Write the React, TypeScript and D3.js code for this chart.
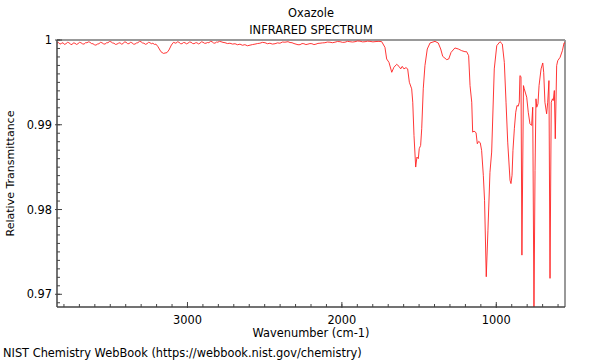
import React from "react";
import * as d3 from "d3";

const title = "Oxazole";
const subtitle = "INFRARED SPECTRUM";
const xLabel = "Wavenumber (cm-1)";
const yLabel = "Relative Transmittance";
const footer = "NIST Chemistry WebBook (https://webbook.nist.gov/chemistry)";

const xDomain = [3845, 555];
const yDomain = [0.9685, 1.0];
const xMajorTicks = [3000, 2000, 1000];
const yMajorTicks = [0.97, 0.98, 0.99, 1.0];
const yTickLabels = ["0.97", "0.98", "0.99", "1"];

const wavenumbers = [
  3845, 3836, 3826, 3816, 3806, 3797, 3787, 3777, 3768, 3758, 3748, 3739, 3729, 3719, 3709, 3700,
  3690, 3680, 3670, 3660, 3651, 3641, 3632, 3622, 3612, 3603, 3593, 3583, 3573, 3564, 3554, 3544,
  3534, 3525, 3515, 3505, 3496, 3486, 3476, 3466, 3457, 3447, 3437, 3428, 3418, 3408, 3398, 3389,
  3379, 3370, 3360, 3350, 3340, 3331, 3321, 3311, 3301, 3292, 3282, 3272, 3262, 3253, 3243, 3234,
  3224, 3214, 3204, 3191, 3172, 3156, 3133, 3120, 3104, 3091, 3075, 3065, 3055, 3046, 3036, 3026,
  3016, 3007, 2997, 2987, 2977, 2968, 2958, 2949, 2939, 2929, 2919, 2910, 2900, 2890, 2880, 2871,
  2861, 2851, 2841, 2832, 2822, 2812, 2803, 2793, 2783, 2770, 2757, 2741, 2725, 2708, 2692, 2676,
  2660, 2644, 2628, 2612, 2595, 2579, 2563, 2547, 2531, 2515, 2498, 2482, 2466, 2450, 2433, 2417,
  2401, 2385, 2369, 2349, 2336, 2323, 2310, 2297, 2284, 2271, 2258, 2246, 2233, 2220, 2207, 2194,
  2181, 2168, 2155, 2142, 2126, 2110, 2094, 2077, 2061, 2045, 2029, 2012, 1996, 1980, 1964, 1948,
  1931, 1915, 1899, 1883, 1866, 1850, 1834, 1818, 1799, 1779, 1760, 1742, 1721, 1710, 1695, 1677,
  1663, 1645, 1630, 1619, 1609, 1598, 1585, 1574, 1563, 1548, 1541, 1533, 1522, 1514, 1505, 1499,
  1490, 1483, 1473, 1462, 1447, 1429, 1397, 1376, 1360, 1347, 1321, 1308, 1293, 1268, 1246, 1224,
  1203, 1192, 1179, 1170, 1159, 1153, 1144, 1131, 1123, 1114, 1104, 1095, 1084, 1076, 1065, 1054,
  1041, 1030, 1013, 997, 976, 961, 948, 937, 926, 911, 905, 898, 892, 883, 874, 866,
  858, 851, 847, 840, 834, 824, 819, 803, 793, 782, 771, 764, 756, 749, 743, 738,
  730, 723, 710, 699, 693, 685, 674, 667, 659, 652, 644, 636, 631, 624, 618, 609,
  602, 587, 572, 561, 555,
];

const transmittance = [
  0.99962, 0.99972, 0.99951, 0.9996, 0.99968, 0.99948, 0.99956, 0.99972, 0.99968, 0.99952, 0.99945, 0.99966, 0.99962, 0.99948, 0.99956, 0.99972,
  0.99968, 0.99955, 0.99951, 0.99968, 0.99968, 0.99978, 0.99974, 0.99958, 0.99956, 0.99944, 0.99939, 0.99952, 0.99956, 0.99972, 0.99968, 0.99955,
  0.99951, 0.99966, 0.99968, 0.99982, 0.9998, 0.99966, 0.99962, 0.99948, 0.99951, 0.99962, 0.99968, 0.99952, 0.99956, 0.99978, 0.99974, 0.99958,
  0.99956, 0.99972, 0.99968, 0.99952, 0.99951, 0.99964, 0.99968, 0.99984, 0.9998, 0.99966, 0.99962, 0.99949, 0.99956, 0.99972, 0.99968, 0.99956,
  0.99962, 0.99948, 0.99951, 0.99921, 0.99862, 0.99842, 0.99851, 0.99882, 0.99941, 0.99972, 0.99962, 0.99978, 0.99974, 0.99958, 0.99956, 0.9997,
  0.99968, 0.99955, 0.99962, 0.99976, 0.99974, 0.9996, 0.99956, 0.99966, 0.99968, 0.99954, 0.99962, 0.99978, 0.99974, 0.99962, 0.99962, 0.9997,
  0.99968, 0.99984, 0.9998, 0.99966, 0.99962, 0.99976, 0.99974, 0.99984, 0.9998, 0.99972, 0.99968, 0.99958, 0.99962, 0.99952, 0.99956, 0.99944,
  0.99951, 0.99938, 0.99945, 0.99932, 0.99939, 0.99946, 0.99951, 0.99958, 0.99962, 0.99972, 0.99968, 0.99956, 0.99962, 0.99952, 0.99956, 0.99966,
  0.99962, 0.99976, 0.99974, 0.9998, 0.9997, 0.99968, 0.99958, 0.99951, 0.99944, 0.99945, 0.99958, 0.99956, 0.99946, 0.99951, 0.99958, 0.99956,
  0.99946, 0.99951, 0.9996, 0.99962, 0.99966, 0.99968, 0.99976, 0.99974, 0.99968, 0.99974, 0.99982, 0.9998, 0.99972, 0.99974, 0.99984, 0.9998,
  0.99976, 0.9998, 0.99988, 0.99986, 0.99978, 0.9998, 0.99986, 0.99984, 0.99978, 0.99982, 0.99984, 0.9998, 0.99913, 0.99776, 0.99736, 0.99619,
  0.99678, 0.99713, 0.99689, 0.99659, 0.99689, 0.99659, 0.99674, 0.99659, 0.99501, 0.99424, 0.99266, 0.98874, 0.98501, 0.98619, 0.986, 0.98718,
  0.98756, 0.98953, 0.99424, 0.99698, 0.99894, 0.99965, 0.99984, 0.99965, 0.99894, 0.99807, 0.99768, 0.99776, 0.99854, 0.99906, 0.99894, 0.99874,
  0.99862, 0.99862, 0.99815, 0.99462, 0.99266, 0.98913, 0.98925, 0.98906, 0.98776, 0.98804, 0.98788, 0.98698, 0.98404, 0.98109, 0.97207, 0.97756,
  0.98439, 0.98678, 0.99659, 0.99933, 0.9998, 0.99953, 0.99736, 0.99266, 0.98795, 0.98345, 0.98306, 0.98404, 0.98698, 0.98953, 0.99148, 0.99227,
  0.99219, 0.99266, 0.9958, 0.99568, 0.97462, 0.99462, 0.99424, 0.99325, 0.99148, 0.99012, 0.98992, 0.99207, 0.968, 0.98462, 0.99306, 0.99207,
  0.99247, 0.99462, 0.99659, 0.99729, 0.99619, 0.99266, 0.99129, 0.99266, 0.99521, 0.97188, 0.99266, 0.99306, 0.99286, 0.99404, 0.98835, 0.99698,
  0.99756, 0.99795, 0.99874, 0.99965, 0.99965,
];

const W = 600;
const H = 360;
const M = { left: 57, right: 565, top: 40, bottom: 307 };

export default function App() {
  const x = d3.scaleLinear().domain(xDomain).range([M.left, M.right]);
  const y = d3.scaleLinear().domain(yDomain).range([M.bottom, M.top]);
  const pts: [number, number][] = wavenumbers.map((w, i) => [w, transmittance[i]]);
  const line = d3
    .line<[number, number]>()
    .x((d) => x(d[0]))
    .y((d) => y(d[1]));

  const xMinor = d3.range(600, 3900, 100).filter((v) => v <= xDomain[0] && v >= xDomain[1]);
  const yMinor = d3.range(969, 1001, 1).map((v) => v / 1000);

  const font = "DejaVu Sans, sans-serif";
  const fs = 11.4;
  const axisColor = "#444";
  const frameColor = "#999";

  return (
    <svg width={W} height={H} style={{ position: "absolute", left: 0, top: 0, background: "#fff" }}>
      <defs>
        <clipPath id="plotclip">
          <rect x={M.left} y={M.top} width={M.right - M.left} height={M.bottom - M.top} />
        </clipPath>
      </defs>
      <text x={311} y={17} textAnchor="middle" fontFamily={font} fontSize={fs} fill="#000">
        {title}
      </text>
      <text x={311} y={34} textAnchor="middle" fontFamily={font} fontSize={fs} fill="#000">
        {subtitle}
      </text>

      {/* frame */}
      <line x1={M.left} x2={M.right} y1={M.top} y2={M.top} stroke={frameColor} strokeWidth={2} />
      <line x1={M.right} x2={M.right} y1={M.top} y2={M.bottom} stroke={frameColor} strokeWidth={2} />

      {/* spectrum */}
      <path d={line(pts) || ""} fill="none" stroke="#ff2020" strokeWidth={0.9} clipPath="url(#plotclip)" />

      <line x1={M.left} x2={M.left} y1={M.top} y2={M.bottom} stroke={axisColor} strokeWidth={1.5} />
      <line x1={M.left} x2={M.right} y1={M.bottom} y2={M.bottom} stroke={axisColor} strokeWidth={1.5} />

      {/* y ticks */}
      {yMinor.map((v) => (
        <line key={"ym" + v} x1={M.left} x2={M.left + 3} y1={y(v)} y2={y(v)} stroke={axisColor} strokeWidth={1} />
      ))}
      {yMajorTicks.map((v, i) => (
        <g key={"yM" + v}>
          <line x1={M.left - 2} x2={M.left + 5} y1={y(v)} y2={y(v)} stroke={axisColor} strokeWidth={1} />
          <text x={M.left - 5} y={y(v)} dy="0.35em" textAnchor="end" fontFamily={font} fontSize={fs} fill="#000">
            {yTickLabels[i]}
          </text>
        </g>
      ))}

      {/* x ticks */}
      {xMinor.map((v) => (
        <line key={"xm" + v} x1={x(v)} x2={x(v)} y1={M.bottom} y2={M.bottom - 3} stroke={axisColor} strokeWidth={1} />
      ))}
      {xMajorTicks.map((v) => (
        <g key={"xM" + v}>
          <line x1={x(v)} x2={x(v)} y1={M.bottom + 1} y2={M.bottom - 5} stroke={axisColor} strokeWidth={1} />
          <text x={x(v)} y={324} textAnchor="middle" fontFamily={font} fontSize={fs} fill="#000">
            {v}
          </text>
        </g>
      ))}

      <text x={311} y={337} textAnchor="middle" fontFamily={font} fontSize={fs} fill="#000">
        {xLabel}
      </text>
      <text
        transform={`translate(14, ${(M.top + M.bottom) / 2}) rotate(-90)`}
        textAnchor="middle"
        fontFamily={font}
        fontSize={11}
        fill="#000"
      >
        {yLabel}
      </text>
      <text x={3} y={357} fontFamily={font} fontSize={fs} fill="#000">
        {footer}
      </text>
    </svg>
  );
}
